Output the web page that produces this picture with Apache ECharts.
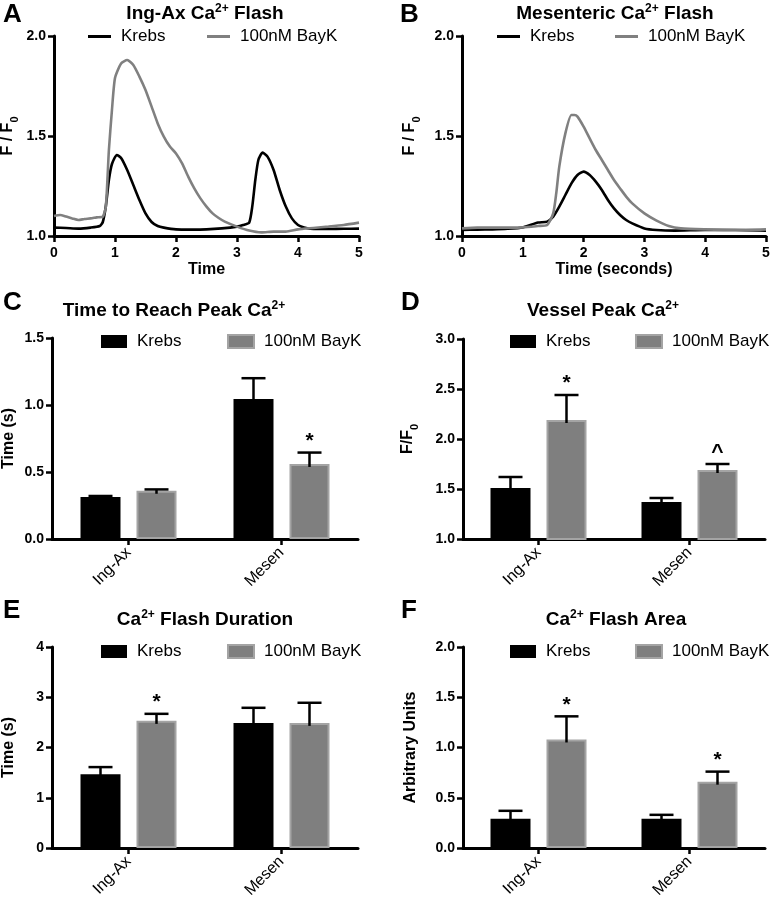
<!DOCTYPE html>
<html><head><meta charset="utf-8">
<script src="https://cdn.jsdelivr.net/npm/echarts@6/dist/echarts.min.js"></script>
<style>html,body{margin:0;padding:0;background:#fff}#c{width:771px;height:902px}</style>
</head><body><div id="c"></div>
<script>
const FONT = '"Liberation Sans", Arial, Helvetica, sans-serif';

// ---- Panel A/B traces: [time (s), F/F0] ----
const aKrebs = [[0,1.042],[0.2,1.040],[0.4,1.037],[0.6,1.042],[0.75,1.05],[0.8,1.07],[0.85,1.15],[0.9,1.28],[0.95,1.36],[1.03,1.405],[1.1,1.39],[1.2,1.33],[1.3,1.255],[1.4,1.18],[1.5,1.113],[1.6,1.07],[1.7,1.05],[1.8,1.042],[2.0,1.033],[2.25,1.032],[2.5,1.033],[2.75,1.038],[3.0,1.047],[3.1,1.055],[3.2,1.067],[3.25,1.147],[3.3,1.28],[3.35,1.38],[3.42,1.417],[3.5,1.397],[3.6,1.33],[3.7,1.23],[3.8,1.147],[3.9,1.088],[4.0,1.055],[4.1,1.043],[4.2,1.037],[4.5,1.035],[4.75,1.036],[5.0,1.037]];
const aBayK = [[0,1.10],[0.1,1.105],[0.2,1.097],[0.3,1.088],[0.4,1.08],[0.5,1.085],[0.6,1.088],[0.7,1.093],[0.8,1.097],[0.85,1.147],[0.9,1.43],[0.95,1.63],[1.0,1.79],[1.1,1.863],[1.2,1.88],[1.3,1.855],[1.4,1.797],[1.5,1.73],[1.6,1.647],[1.7,1.563],[1.8,1.497],[1.9,1.447],[2.0,1.413],[2.1,1.363],[2.2,1.297],[2.3,1.238],[2.4,1.188],[2.5,1.147],[2.6,1.113],[2.7,1.09],[2.8,1.072],[3.0,1.047],[3.2,1.027],[3.4,1.018],[3.6,1.022],[3.8,1.022],[4.0,1.033],[4.25,1.04],[4.5,1.047],[4.75,1.055],[5.0,1.067]];
const bKrebs = [[0,1.03],[0.25,1.032],[0.5,1.033],[0.75,1.036],[1.0,1.043],[1.25,1.067],[1.4,1.072],[1.5,1.097],[1.6,1.147],[1.7,1.205],[1.8,1.263],[1.9,1.305],[2.0,1.322],[2.1,1.305],[2.2,1.272],[2.3,1.23],[2.4,1.18],[2.5,1.138],[2.6,1.105],[2.7,1.08],[2.8,1.063],[3.0,1.038],[3.2,1.03],[3.5,1.027],[4.0,1.03],[4.5,1.03],[5.0,1.027]];
const bBayK = [[0,1.038],[0.25,1.042],[0.5,1.042],[0.75,1.042],[1.0,1.043],[1.25,1.05],[1.4,1.055],[1.5,1.113],[1.55,1.213],[1.6,1.347],[1.7,1.513],[1.8,1.605],[1.85,1.605],[1.9,1.597],[2.0,1.547],[2.1,1.488],[2.2,1.43],[2.3,1.38],[2.4,1.33],[2.5,1.28],[2.6,1.238],[2.7,1.197],[2.8,1.163],[3.0,1.113],[3.2,1.077],[3.4,1.05],[3.6,1.038],[4.0,1.033],[4.5,1.03],[5.0,1.033]];

// ---- Bar panels ----
const categories = ['Ing-Ax', 'Mesen'];
const cKrebs = [0.313, 1.045], cKrebsSem = [0.008, 0.155];
const cBayK = [0.36, 0.56], cBayKSem = [0.01, 0.085];
const cMarks = ['', '*'];
const dKrebs = [1.51, 1.37], dKrebsSem = [0.11, 0.04];
const dBayK = [2.19, 1.69], dBayKSem = [0.25, 0.06];
const dMarks = ['*', '^'];
const eKrebs = [1.47, 2.49], eKrebsSem = [0.14, 0.30];
const eBayK = [2.53, 2.49], eBayKSem = [0.14, 0.40];
const eMarks = ['*', ''];
const fKrebs = [0.29, 0.29], fKrebsSem = [0.08, 0.04];
const fBayK = [1.08, 0.66], fBayKSem = [0.23, 0.10];
const fMarks = ['*', '*'];

const BLACK = '#000000', GRAY = '#7f7f7f', GRAY_BORDER = '#a4a4a4', LINE_GRAY = '#808080';

const chart = echarts.init(document.getElementById('c'), null, {renderer: 'canvas'});

const grids = [
  {left: 54, top: 36, width: 305, height: 200},
  {left: 462, top: 36, width: 304, height: 200},
  {left: 52, top: 338, width: 306, height: 201},
  {left: 463, top: 339, width: 302, height: 200},
  {left: 52, top: 647, width: 306, height: 201},
  {left: 463, top: 647, width: 302, height: 201}
].map(g => Object.assign({outerBoundsMode: 'none', containLabel: false}, g));

const axisLine = {show: true, onZero: false, lineStyle: {color: '#000', width: 3}};
const axisTick = {show: true, inside: false, length: 6, lineStyle: {color: '#000', width: 2.5}};
const tickLbl = (extra) => Object.assign({color: '#000', fontSize: 14, fontWeight: 'bold', fontFamily: FONT, margin: 8}, extra || {});
const nameRich = {
  n: {fontSize: 16, fontWeight: 'bold', fontFamily: FONT, color: '#000', lineHeight: 24, verticalAlign: 'middle'},
  sub: {fontSize: 11, fontWeight: 'bold', fontFamily: FONT, color: '#000', lineHeight: 11, verticalAlign: 'bottom'}
};
const nameStyle = {fontSize: 16, fontWeight: 'bold', fontFamily: FONT, color: '#000', rich: nameRich};

function valueX(idx, name) {
  return {type: 'value', gridIndex: idx, min: 0, max: 5, interval: 1,
    axisLine, axisTick, splitLine: {show: false},
    axisLabel: tickLbl({margin: 10}),
    name, nameLocation: 'middle', nameGap: 26, nameTextStyle: nameStyle};
}
function catX(idx) {
  return {type: 'category', gridIndex: idx, data: categories,
    axisLine, axisTick: Object.assign({alignWithLabel: true}, axisTick), splitLine: {show: false},
    axisLabel: {color: '#000', fontSize: 16, fontFamily: FONT, rotate: 45, margin: 11, interval: 0}};
}
function valueY(idx, min, max, interval, dec, name, gap) {
  return {type: 'value', gridIndex: idx, min, max, interval,
    axisLine, axisTick: Object.assign({}, axisTick, {length: 6}), splitLine: {show: false},
    axisLabel: tickLbl({formatter: v => v.toFixed(dec), margin: 8}),
    name, nameLocation: 'middle', nameRotate: 90, nameGap: gap, nameTextStyle: nameStyle};
}

function lineSeries(idx, name, data, color) {
  return {type: 'line', name, xAxisIndex: idx, yAxisIndex: idx, data, showSymbol: false, symbol: 'none',
    smooth: 0.2, lineStyle: {color, width: 2.6}, itemStyle: {color}, z: 3};
}
function barSeries(idx, name, data, isBayK) {
  return {type: 'bar', name, xAxisIndex: idx, yAxisIndex: idx, data, barWidth: 40, barGap: '40%',
    itemStyle: isBayK ? {color: GRAY, borderColor: GRAY_BORDER, borderWidth: 2} : {color: BLACK},
    z: 2};
}
function errSeries(idx, means, sems, marks, offset) {
  return {type: 'custom', xAxisIndex: idx, yAxisIndex: idx, z: 5,
    encode: {x: 0, y: 1},
    data: means.map((m, i) => [i, m, sems[i]]),
    renderItem: (params, api) => {
      const i = api.value(0), m = api.value(1), s = api.value(2);
      const p0 = api.coord([i, m]);
      const p1 = api.coord([i, m + s]);
      const x = p0[0] + offset;
      const children = [
        {type: 'line', shape: {x1: x, y1: p0[1] + 3, x2: x, y2: p1[1]}, style: {stroke: '#000', lineWidth: 2.5}},
        {type: 'line', shape: {x1: x - 12, y1: p1[1], x2: x + 12, y2: p1[1]}, style: {stroke: '#000', lineWidth: 2.5}}
      ];
      const mk = marks ? marks[params.dataIndex] : '';
      if (mk) {
        children.push({type: 'text', style: {text: mk, x: x, y: p1[1] - 1, align: 'center', verticalAlign: 'bottom',
          fontSize: 21, fontWeight: 'bold', fontFamily: FONT, fill: '#000'}});
      }
      return {type: 'group', children};
    }
  };
}

function legendOne(name, left, top, kind) {
  const isLine = kind === 'line';
  const isBayK = name !== 'Krebs';
  const itemStyle = isLine
    ? {color: isBayK ? LINE_GRAY : BLACK, borderWidth: 0}
    : (isBayK ? {color: GRAY, borderColor: GRAY_BORDER, borderWidth: 2} : {color: BLACK, borderWidth: 0});
  return {data: [{name, icon: 'rect', itemStyle}], left, top, padding: 0, orient: 'horizontal',
    itemWidth: isLine ? 23 : 26, itemHeight: isLine ? 3 : 13, selectedMode: false,
    textStyle: {fontSize: 17, color: '#000', fontFamily: FONT, padding: [0, 0, 0, 5]}};
}

const titleRich = {
  t: {fontSize: 19, fontWeight: 'bold', fontFamily: FONT, color: '#000', lineHeight: 22, verticalAlign: 'middle'},
  sup: {fontSize: 12, fontWeight: 'bold', fontFamily: FONT, color: '#000', lineHeight: 12, verticalAlign: 'top'}
};
function titleOne(text, cx, top) {
  return {text, left: cx, top, textAlign: 'center', padding: 0,
    textStyle: {fontSize: 19, fontWeight: 'bold', fontFamily: FONT, color: '#000', rich: titleRich}};
}
function letter(text, left, top) {
  return {text, left, top, padding: 0, textStyle: {fontSize: 26, fontWeight: 'bold', fontFamily: FONT, color: '#000'}};
}

const option = {
  animation: false,
  backgroundColor: '#fff',
  title: [
    letter('A', 3, 2), letter('B', 400, 2), letter('C', 3, 290), letter('D', 401, 290), letter('E', 3, 598), letter('F', 401, 598),
    titleOne('{t|Ing-Ax Ca}{sup|2+}{t| Flash}', 205, 3),
    titleOne('{t|Mesenteric Ca}{sup|2+}{t| Flash}', 615, 3),
    titleOne('{t|Time to Reach Peak Ca}{sup|2+}', 174, 300),
    titleOne('{t|Vessel Peak Ca}{sup|2+}', 603, 300),
    titleOne('{t|Ca}{sup|2+}{t| Flash Duration}', 205, 609),
    titleOne('{t|Ca}{sup|2+}{t| Flash Area}', 616, 609)
  ],
  legend: [
    legendOne('Krebs', 88, 28, 'line'), legendOne('100nM BayK', 207, 28, 'line'),
    legendOne('Krebs', 497, 28, 'line'), legendOne('100nM BayK', 615, 28, 'line'),
    legendOne('Krebs', 101, 333, 'bar'), legendOne('100nM BayK', 227, 333, 'bar'),
    legendOne('Krebs', 510, 333, 'bar'), legendOne('100nM BayK', 635, 333, 'bar'),
    legendOne('Krebs', 101, 643, 'bar'), legendOne('100nM BayK', 227, 643, 'bar'),
    legendOne('Krebs', 510, 643, 'bar'), legendOne('100nM BayK', 635, 643, 'bar')
  ],
  grid: grids,
  xAxis: [valueX(0, 'Time'), valueX(1, 'Time (seconds)'), catX(2), catX(3), catX(4), catX(5)],
  yAxis: [
    valueY(0, 1, 2, 0.5, 1, '{n|F / F}{sub|0}', 34),
    valueY(1, 1, 2, 0.5, 1, '{n|F / F}{sub|0}', 40),
    valueY(2, 0, 1.5, 0.5, 1, '{n|Time (s)}', 31),
    valueY(3, 1, 3, 0.5, 1, '{n|F/F}{sub|0}', 43),
    valueY(4, 0, 4, 1, 0, '{n|Time (s)}', 31),
    valueY(5, 0, 2, 0.5, 1, '{n|Arbitrary Units}', 40)
  ],
  series: [
    lineSeries(0, 'Krebs', aKrebs, BLACK), lineSeries(0, '100nM BayK', aBayK, LINE_GRAY),
    lineSeries(1, 'Krebs', bKrebs, BLACK), lineSeries(1, '100nM BayK', bBayK, LINE_GRAY),
    barSeries(2, 'Krebs', cKrebs, false), barSeries(2, '100nM BayK', cBayK, true),
    errSeries(2, cKrebs, cKrebsSem, null, -28), errSeries(2, cBayK, cBayKSem, cMarks, 28),
    barSeries(3, 'Krebs', dKrebs, false), barSeries(3, '100nM BayK', dBayK, true),
    errSeries(3, dKrebs, dKrebsSem, null, -28), errSeries(3, dBayK, dBayKSem, dMarks, 28),
    barSeries(4, 'Krebs', eKrebs, false), barSeries(4, '100nM BayK', eBayK, true),
    errSeries(4, eKrebs, eKrebsSem, null, -28), errSeries(4, eBayK, eBayKSem, eMarks, 28),
    barSeries(5, 'Krebs', fKrebs, false), barSeries(5, '100nM BayK', fBayK, true),
    errSeries(5, fKrebs, fKrebsSem, null, -28), errSeries(5, fBayK, fBayKSem, fMarks, 28)
  ]
};
chart.setOption(option);
</script></body></html>
